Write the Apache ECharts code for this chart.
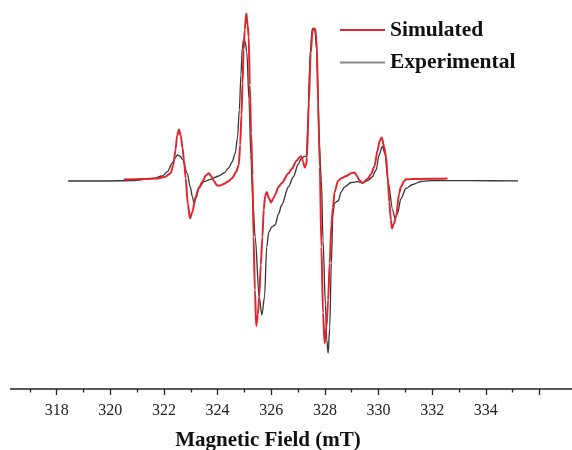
<!DOCTYPE html>
<html>
<head>
<meta charset="utf-8">
<script src="https://cdn.jsdelivr.net/npm/echarts@6/dist/echarts.min.js"></script>
<style>
html,body{margin:0;padding:0;background:#fff;}
#chart{width:572px;height:450px;}
</style>
</head>
<body>
<div id="chart"></div>
<script>
// Magnetic field (mT) and signal (arb. units)
var expField = [318.43,319.72,320.83,321.57,321.94,322.13,322.31,322.44,322.50,322.59,322.69,322.87,322.98,323.06,323.12,323.20,323.30,323.49,323.73,324.04,324.24,324.41,324.54,324.66,324.74,324.81,324.87,324.92,324.97,325.03,325.09,325.17,325.24,325.31,325.40,325.55,325.65,325.75,325.83,325.91,326.02,326.14,326.27,326.39,326.64,326.82,327.01,327.13,327.24,327.31,327.37,327.41,327.46,327.53,327.59,327.63,327.69,327.72,327.78,327.87,327.93,328.02,328.07,328.12,328.18,328.24,328.30,328.36,328.49,328.61,328.73,328.98,329.23,329.41,329.60,329.76,329.91,330.02,330.14,330.24,330.36,330.53,330.61,330.71,330.83,331.02,331.27,331.57,331.94,333.43,335.20];
var expSignal = [0,0,0.5,2.5,5,9.3,18,24,26,25,21.7,7.7,-6,-15.7,-22.3,-17,-7.3,-0.7,1.7,5,8,13,19,28,43,71,106,133,141.7,139,129,81,26,-19,-56,-116,-134,-116,-66,-51,-46,-44,-33,-24,-6,4,17,23,24.5,25,56,101,131,152.5,152,150,131,109,41,1,-59,-124,-159,-172.3,-147,-82,-33,-22,-20,-11,-6,-1.5,-0.7,-2,0.5,4,11,26,34.5,27.5,-2,-29,-37.3,-32.5,-18,-7.5,-3.5,-0.5,0.3,0.3,0.2];

var simField = [320.50,321.20,321.76,322.02,322.25,322.35,322.43,322.49,322.56,322.63,322.69,322.75,322.81,322.89,322.97,323.06,323.18,323.30,323.43,323.56,323.67,323.76,323.86,323.98,324.09,324.23,324.39,324.54,324.69,324.79,324.84,324.89,324.93,324.97,325.01,325.07,325.12,325.16,325.20,325.25,325.30,325.34,325.39,325.44,325.50,325.55,325.61,325.67,325.72,325.77,325.83,325.91,325.99,326.07,326.14,326.27,326.39,326.64,326.76,326.94,327.07,327.13,327.19,327.25,327.30,327.33,327.40,327.47,327.54,327.59,327.64,327.69,327.75,327.81,327.87,327.93,327.99,328.06,328.12,328.18,328.24,328.30,328.36,328.49,328.61,328.80,328.98,329.10,329.20,329.29,329.41,329.60,329.72,329.84,329.97,330.04,330.12,330.21,330.28,330.34,330.40,330.46,330.50,330.57,330.65,330.77,330.83,330.96,331.02,331.20,331.94,332.57];
var simSignal = [1.5,2,2.5,4,7.7,16,31,45,51.5,45,33,20,3,-23,-37.3,-31,-16,-7,-0.7,5.5,7.7,5,0,-4.5,-4.5,-3,-0.5,2.7,9,16,36,66,98,131,151,167.7,156,144.3,96,48,6,-56,-109,-145,-134,-116,-84,-56,-29,-15,-11,-17,-21.5,-18,-14,-6,-2,7.5,12,20,24.3,24.5,19,13.5,16,23,78,127.7,150,152.7,152,141,78,14,-66,-132,-162.3,-146,-119,-82,-44,-27,-11,0,2.7,5,7.7,8.5,5,0.5,-2,2.5,7,14.3,31,40,43.5,34,24,4,-21,-39,-47.3,-43,-35.7,-12.5,-6,0,1.7,2,2.2,2.5];

var xTicks = [318,320,322,324,326,328,330,332,334];
var seriesNames = ['Simulated','Experimental'];
var axisTitle = 'Magnetic Field (mT)';

function pairs(a,b){var r=[];for(var i=0;i<a.length;i++){r.push([a[i],b[i]]);}return r;}

var chart = echarts.init(document.getElementById('chart'), null, {renderer:'canvas'});
var serif = "'Liberation Serif','Times New Roman',serif";
chart.setOption({
  animation:false,
  backgroundColor:'#ffffff',
  grid:{left:0,right:32.5,top:0,bottom:61,containLabel:false},
  xAxis:{
    type:'value',min:316,max:336,interval:2,
    axisLine:{show:false,onZero:false},
    axisTick:{show:true,length:6,lineStyle:{color:'#222',width:1.3}},
    minorTick:{show:true,splitNumber:2,length:3.5,lineStyle:{color:'#222',width:1.3}},
    splitLine:{show:false},
    axisLabel:{
      margin:14,color:'#222',fontFamily:serif,fontSize:16,
      formatter:function(v){return xTicks.indexOf(v)>=0?String(v):'';}
    }
  },
  yAxis:{type:'value',min:-208,max:181,show:false},
  legend:{
    data:[{name:seriesNames[0],icon:'rect'},{name:seriesNames[1],icon:'rect',itemStyle:{color:'#8a8a8a'}}],
    orient:'vertical',left:340,top:19,padding:0,
    itemWidth:45,itemHeight:2,itemGap:10.5,
    textStyle:{fontFamily:serif,fontSize:21.5,fontWeight:'bold',color:'#111',lineHeight:21.5}
  },
  graphic:[
    {type:'rect',shape:{x:0,y:386,width:9,height:14},style:{fill:'#ffffff'},silent:true,z:100},
    {type:'line',shape:{x1:10,y1:389,x2:572,y2:389},style:{stroke:'#222',lineWidth:1.6},silent:true},
    {type:'text',x:268,y:441,style:{text:axisTitle,font:"bold 21px "+serif,fill:'#111',textAlign:'center',textVerticalAlign:'middle'}}
  ],
  series:[
    {name:'Experimental',type:'line',data:pairs(expField,expSignal),symbol:'none',smooth:0.3,smoothMonotone:'x',
     lineStyle:{color:'#363636',width:1.3},itemStyle:{color:'#363636'},z:2},
    {name:'Simulated',type:'line',data:pairs(simField,simSignal),symbol:'none',smooth:0.3,smoothMonotone:'x',
     lineStyle:{color:'#e0262d',width:2},itemStyle:{color:'#e0262d'},z:3}
  ]
});
</script>
</body>
</html>
